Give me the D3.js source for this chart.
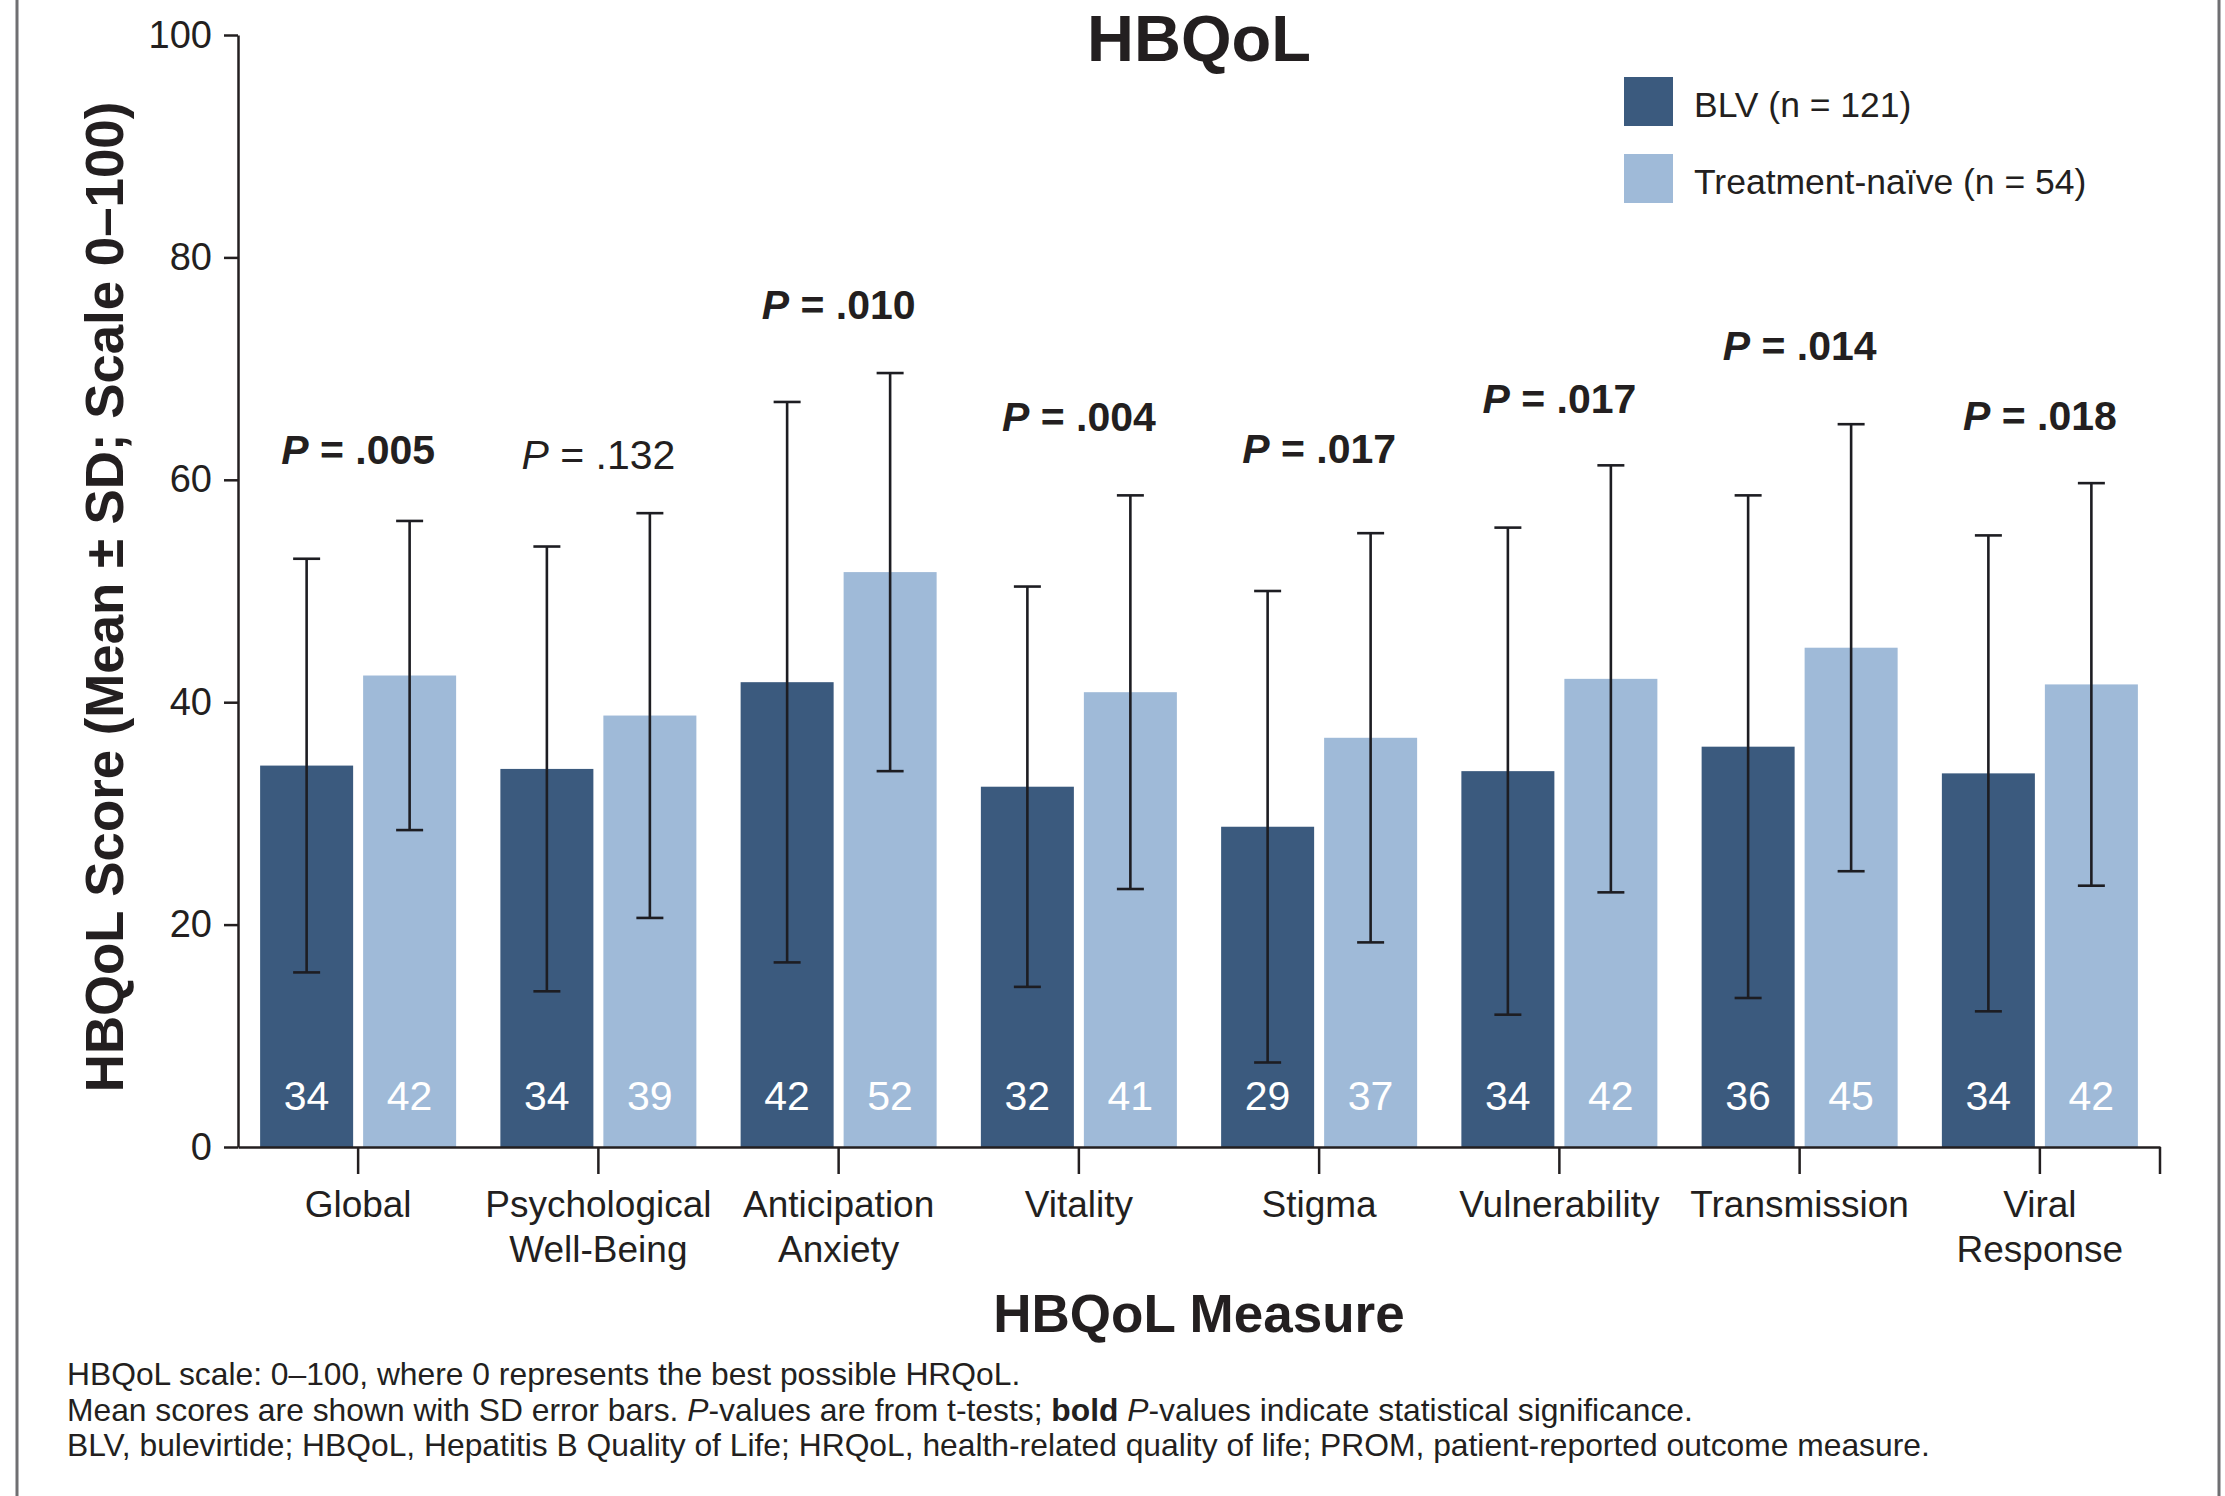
<!DOCTYPE html>
<html>
<head>
<meta charset="utf-8">
<title>HBQoL</title>
<script src="https://cdn.jsdelivr.net/npm/d3@7/dist/d3.min.js"></script>
<style>
  html, body { margin: 0; padding: 0; background: #ffffff; }
  svg { display: block; }
  text { font-family: "Liberation Sans", Arial, Helvetica, sans-serif; fill: #231f20; }
</style>
</head>
<body>
<svg id="chart" width="2225" height="1496"></svg>
<script>
// HBQoL domain scores, mean ± SD, BLV vs treatment-naive
const categories = ["Global", "Psychological\nWell-Being", "Anticipation\nAnxiety", "Vitality",
                    "Stigma", "Vulnerability", "Transmission", "Viral\nResponse"];
const seriesNames = ["BLV (n = 121)", "Treatment-naïve (n = 54)"];
const blvMean   = [34.3, 34.0, 41.8, 32.4, 28.8, 33.8, 36.0, 33.6];
const blvSD     = [18.6, 20.0, 25.2, 18.0, 21.2, 21.9, 22.6, 21.4];
const naiveMean = [42.4, 38.8, 51.7, 40.9, 36.8, 42.1, 44.9, 41.6];
const naiveSD   = [13.9, 18.2, 17.9, 17.7, 18.4, 19.2, 20.1, 18.1];
const pValues   = [".005", ".132", ".010", ".004", ".017", ".017", ".014", ".018"];
const pSignificant = [true, false, true, true, true, true, true, true];
// score level (0–100 scale) at which each P-value annotation sits
const pLabelLevel = [61.4, 61.0, 74.5, 64.4, 61.5, 66.0, 70.8, 64.5];
const yTicks = [0, 20, 40, 60, 80, 100];

const colors = ["#3b5a7e", "#9fbad8"];
const ink = "#231f20";

const svg = d3.select("#chart");

// frame lines at the sides of the panel
[17, 2219].forEach(xp => {
  svg.append("line").attr("x1", xp).attr("x2", xp).attr("y1", 0).attr("y2", 1496)
    .attr("stroke", "#6f6f72").attr("stroke-width", 3);
});

const plot = { left: 238, right: 2160, top: 35, bottom: 1147 };

const y = d3.scaleLinear().domain([0, 100]).range([plot.bottom, plot.top]);
const x0 = d3.scaleBand().domain(categories).range([plot.left, plot.right]).padding(0);
const groupWidth = 196;
const x1 = d3.scaleBand().domain([0, 1])
  .range([(x0.bandwidth() - groupWidth) / 2, (x0.bandwidth() + groupWidth) / 2])
  .paddingInner(0.097).paddingOuter(0);

const rows = categories.map((c, i) => ({
  cat: c,
  i,
  series: [
    { s: 0, mean: blvMean[i], sd: blvSD[i] },
    { s: 1, mean: naiveMean[i], sd: naiveSD[i] }
  ]
}));

// bars
const groups = svg.append("g").selectAll("g").data(rows).join("g")
  .attr("transform", d => `translate(${x0(d.cat)},0)`);

groups.selectAll("rect").data(d => d.series).join("rect")
  .attr("x", d => x1(d.s))
  .attr("width", x1.bandwidth())
  .attr("y", d => y(d.mean))
  .attr("height", d => y(0) - y(d.mean))
  .attr("fill", d => colors[d.s]);

// value labels inside bars
groups.selectAll("text.val").data(d => d.series).join("text")
  .attr("class", "val")
  .attr("x", d => x1(d.s) + x1.bandwidth() / 2)
  .attr("y", y(0) - 37)
  .attr("text-anchor", "middle")
  .style("fill", "#ffffff")
  .style("font-size", "41px")
  .text(d => Math.round(d.mean));

// SD error bars
const capHalf = 13.5;
const err = groups.selectAll("g.err").data(d => d.series).join("g").attr("class", "err")
  .attr("stroke", "#1d1d22").attr("stroke-width", 2.6);
err.append("line")
  .attr("x1", d => x1(d.s) + x1.bandwidth() / 2).attr("x2", d => x1(d.s) + x1.bandwidth() / 2)
  .attr("y1", d => y(d.mean + d.sd)).attr("y2", d => y(d.mean - d.sd));
err.append("line")
  .attr("x1", d => x1(d.s) + x1.bandwidth() / 2 - capHalf).attr("x2", d => x1(d.s) + x1.bandwidth() / 2 + capHalf)
  .attr("y1", d => y(d.mean + d.sd)).attr("y2", d => y(d.mean + d.sd));
err.append("line")
  .attr("x1", d => x1(d.s) + x1.bandwidth() / 2 - capHalf).attr("x2", d => x1(d.s) + x1.bandwidth() / 2 + capHalf)
  .attr("y1", d => y(d.mean - d.sd)).attr("y2", d => y(d.mean - d.sd));

// P-value annotations
const pText = groups.append("text")
  .attr("x", x0.bandwidth() / 2)
  .attr("y", d => y(pLabelLevel[d.i]))
  .attr("text-anchor", "middle")
  .style("font-size", "41px")
  .style("font-weight", d => pSignificant[d.i] ? "bold" : "normal");
pText.append("tspan").style("font-style", "italic").text("P");
pText.append("tspan").text(d => " = " + pValues[d.i]);

// y axis
const yAxis = svg.append("g")
  .attr("transform", `translate(${plot.left},0)`)
  .call(d3.axisLeft(y).tickValues(yTicks).tickSize(14).tickSizeOuter(0).tickPadding(12));
yAxis.select(".domain").attr("stroke", ink).attr("stroke-width", 2.5);
yAxis.selectAll(".tick line").attr("stroke", ink).attr("stroke-width", 2.5);
yAxis.selectAll(".tick text").style("font-size", "38px").style("font-family", "'Liberation Sans', Arial, sans-serif").attr("fill", ink);

// x axis
const xAxis = svg.append("g")
  .attr("transform", `translate(0,${plot.bottom})`)
  .call(d3.axisBottom(x0).tickSize(27).tickSizeOuter(0).tickFormat(""));
xAxis.select(".domain").attr("stroke", ink).attr("stroke-width", 2.5);
xAxis.selectAll(".tick line").attr("stroke", ink).attr("stroke-width", 2.5);
xAxis.append("line")
  .attr("x1", x0.range()[1]).attr("x2", x0.range()[1])
  .attr("y1", 0).attr("y2", 27)
  .attr("stroke", ink).attr("stroke-width", 2.5);

const catLabels = svg.append("g").selectAll("text").data(categories).join("text")
  .attr("x", d => x0(d) + x0.bandwidth() / 2)
  .attr("y", plot.bottom + 70)
  .attr("text-anchor", "middle")
  .style("font-size", "37px");
catLabels.selectAll("tspan").data(d => d.split("\n")).join("tspan")
  .attr("x", function () { return d3.select(this.parentNode).attr("x"); })
  .attr("dy", (d, i) => i === 0 ? 0 : 45)
  .text(d => d);

// titles
svg.append("text")
  .attr("x", (plot.left + plot.right) / 2).attr("y", 61)
  .attr("text-anchor", "middle")
  .style("font-size", "65px").style("font-weight", "bold")
  .text("HBQoL");

svg.append("text")
  .attr("x", (plot.left + plot.right) / 2).attr("y", 1332)
  .attr("text-anchor", "middle")
  .style("font-size", "53px").style("font-weight", "bold")
  .text("HBQoL Measure");

svg.append("text")
  .attr("transform", `translate(123,597) rotate(-90)`)
  .attr("text-anchor", "middle")
  .style("font-size", "52.8px").style("font-weight", "bold")
  .text("HBQoL Score (Mean ± SD; Scale 0–100)");

// legend
const legend = svg.append("g").attr("transform", "translate(1624,77)");
const legendItems = legend.selectAll("g").data(seriesNames).join("g")
  .attr("transform", (d, i) => `translate(0,${i * 77})`);
legendItems.append("rect").attr("width", 49).attr("height", 49).attr("fill", (d, i) => colors[i]);
legendItems.append("text").attr("x", 70).attr("y", 40)
  .style("font-size", "35.5px").text(d => d);

// footnotes
const foot = svg.append("g").style("font-size", "31.8px");
foot.append("text").attr("x", 67).attr("y", 1385)
  .text("HBQoL scale: 0–100, where 0 represents the best possible HRQoL.");
const f2 = foot.append("text").attr("x", 67).attr("y", 1421);
f2.append("tspan").text("Mean scores are shown with SD error bars. ");
f2.append("tspan").style("font-style", "italic").text("P");
f2.append("tspan").text("-values are from t-tests; ");
f2.append("tspan").style("font-weight", "bold").text("bold");
f2.append("tspan").text(" ");
f2.append("tspan").style("font-style", "italic").text("P");
f2.append("tspan").text("-values indicate statistical significance.");
foot.append("text").attr("x", 67).attr("y", 1456)
  .text("BLV, bulevirtide; HBQoL, Hepatitis B Quality of Life; HRQoL, health-related quality of life; PROM, patient-reported outcome measure.");
</script>
</body>
</html>
